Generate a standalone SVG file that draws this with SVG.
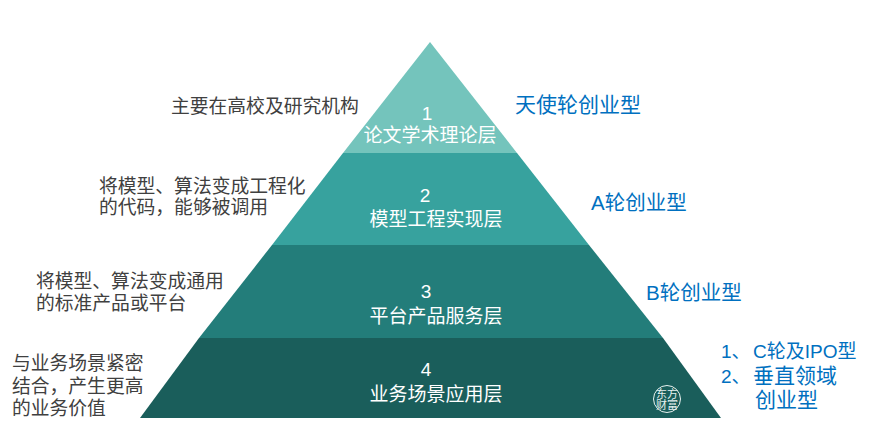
<svg xmlns="http://www.w3.org/2000/svg" width="870" height="448" viewBox="0 0 870 448">
<style>
text{font-family:"Liberation Sans","Noto Sans CJK SC",sans-serif}
.w{fill:#fff;font-size:19px;text-anchor:middle}
.d{fill:#404040;font-size:18.8px}
.b{fill:#0070c0;font-size:20.5px}
</style>
<rect width="870" height="448" fill="#fff"/>
<g id="layer1"><polygon points="430,42 517,153 343,153" fill="#74c4bc"/><text class="w" x="427" y="120">1</text><text class="w" x="430" y="142">论文学术理论层</text></g>
<g id="layer2"><polygon points="343,153 517,153 589,245 272,245" fill="#37a29e"/><text class="w" x="425" y="202">2</text><text class="w" x="436" y="226">模型工程实现层</text></g>
<g id="layer3"><polygon points="272,245 589,245 663,338 199,338" fill="#237d7a"/><text class="w" x="426" y="298">3</text><text class="w" x="436" y="323">平台产品服务层</text></g>
<g id="layer4"><polygon points="199,338 663,338 721,418 140,418" fill="#1a5e5b"/><text class="w" x="426" y="376">4</text><text class="w" x="436" y="401">业务场景应用层</text>
<g id="seal"><circle cx="667" cy="399" r="13.5" fill="none" stroke="#e8f2f0" stroke-width="1"/><text x="667" y="398" font-size="11" fill="#e8f2f0" text-anchor="middle">东方</text><text x="667" y="409" font-size="11" fill="#e8f2f0" text-anchor="middle">财富</text></g></g>
<g id="left-labels">
<g id="l1"><text class="d" x="171" y="113">主要在高校及研究机构</text></g>
<g id="l2"><text class="d" x="99" y="193">将模型、算法变成工程化</text><text class="d" x="99" y="214">的代码，能够被调用</text></g>
<g id="l3"><text class="d" x="36" y="288">将模型、算法变成通用</text><text class="d" x="36" y="310">的标准产品或平台</text></g>
<g id="l4"><text class="d" x="12" y="370">与业务场景紧密</text><text class="d" x="12" y="393">结合，产生更高</text><text class="d" x="12" y="415">的业务价值</text></g>
</g>
<g id="right-labels">
<g id="r1"><text class="b" x="515" y="112" style="font-size:21px">天使轮创业型</text></g>
<g id="r2"><text class="b" x="591" y="210">A轮创业型</text></g>
<g id="r3"><text class="b" x="646" y="300">B轮创业型</text></g>
<g id="r4"><text class="b" x="721" y="358" style="font-size:19px">1、</text><text class="b" x="753" y="358" style="font-size:19px">C轮及IPO型</text><text class="b" x="721" y="383" style="font-size:19px">2、</text><text class="b" x="753" y="383" style="font-size:21px">垂直领域</text><text class="b" x="755" y="407" style="font-size:21px">创业型</text></g>
</g>
</svg>
